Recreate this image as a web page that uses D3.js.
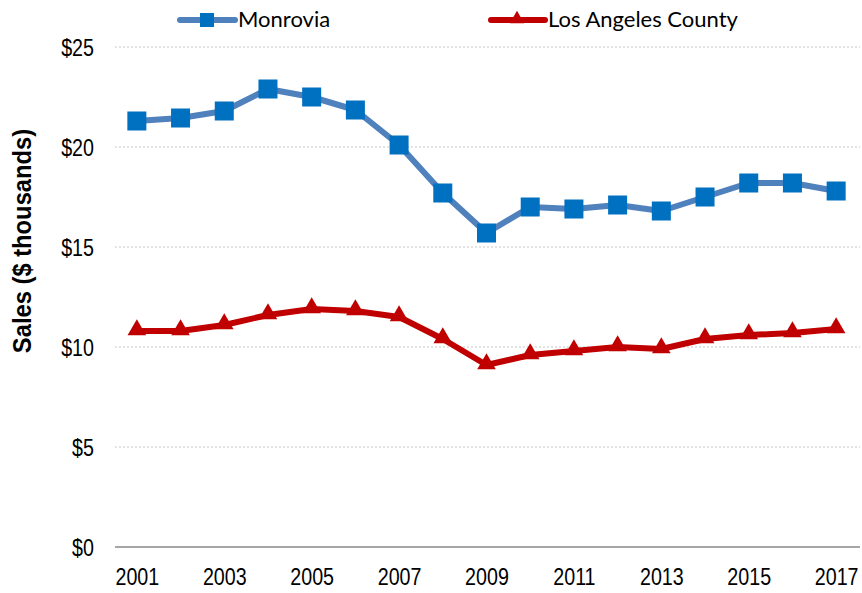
<!DOCTYPE html>
<html>
<head>
<meta charset="utf-8">
<script src="https://cdn.jsdelivr.net/npm/d3@7"></script>
<style>
  html, body { margin: 0; padding: 0; background: #fff; }
  svg { display: block; }
  .tick-label { font-family: "Liberation Sans", Arial, sans-serif; font-size: 24px; fill: #000; }
  .legend-label { font-family: Lato, Calibri, "Open Sans", sans-serif; font-size: 22px; fill: #000; }
  .y-title { font-family: "Liberation Sans", Arial, sans-serif; font-weight: bold; font-size: 25px; fill: #000; }
</style>
</head>
<body>
<svg id="chart" width="862" height="593"></svg>
<script>
// Annual sales per capita ($ thousands)
const years = [2001, 2002, 2003, 2004, 2005, 2006, 2007, 2008, 2009, 2010, 2011, 2012, 2013, 2014, 2015, 2016, 2017];
const monrovia = [21.3, 21.45, 21.8, 22.9, 22.5, 21.85, 20.1, 17.7, 15.7, 17.0, 16.9, 17.1, 16.8, 17.5, 18.2, 18.2, 17.8];
const laCounty = [10.8, 10.8, 11.1, 11.6, 11.9, 11.8, 11.5, 10.4, 9.1, 9.6, 9.8, 10.0, 9.9, 10.4, 10.6, 10.7, 10.9];
const yTicks = [0, 5, 10, 15, 20, 25];
const xTickYears = [2001, 2003, 2005, 2007, 2009, 2011, 2013, 2015, 2017];
const seriesNames = ["Monrovia", "Los Angeles County"];

const svg = d3.select("#chart");

const x = d3.scalePoint().domain(years).range([115, 858]).padding(0.5);
const y = d3.scaleLinear().domain([0, 25]).range([547, 47]);

// Condensed look for the axis numbers
const narrow = "scale(0.82,1)";

// Dotted horizontal gridlines
svg.append("g")
  .selectAll("line")
  .data(yTicks.filter(d => d > 0))
  .join("line")
  .attr("x1", 115).attr("x2", 860)
  .attr("y1", d => y(d)).attr("y2", d => y(d))
  .attr("stroke", "#c8c8c8")
  .attr("stroke-width", 1.2)
  .attr("stroke-dasharray", "2,2");

// Baseline
svg.append("line")
  .attr("x1", 115).attr("x2", 860)
  .attr("y1", y(0)).attr("y2", y(0))
  .attr("stroke", "#a6a6a6")
  .attr("stroke-width", 2);

// Y axis labels
const yAxis = svg.append("g")
  .attr("transform", "translate(94,0)")
  .call(d3.axisLeft(y).tickValues(yTicks).tickSize(0).tickPadding(0).tickFormat(d => "$" + d));
yAxis.select(".domain").remove();
yAxis.selectAll("text")
  .attr("class", "tick-label")
  .attr("dy", "0.36em")
  .attr("transform", narrow)
  .attr("font-size", null).attr("font-family", null);

// X axis labels
const xAxis = svg.append("g")
  .attr("transform", "translate(0,561)")
  .call(d3.axisBottom(x).tickValues(xTickYears).tickSize(0).tickPadding(0));
xAxis.select(".domain").remove();
xAxis.selectAll("text")
  .attr("class", "tick-label")
  .attr("dy", "0.98em")
  .attr("transform", narrow)
  .attr("font-size", null).attr("font-family", null);

// Y axis title
svg.append("text")
  .attr("class", "y-title")
  .attr("transform", "translate(31,241) rotate(-90) scale(0.95,1)")
  .attr("text-anchor", "middle")
  .text("Sales ($ thousands)");

const line = d3.line().x((d, i) => x(years[i])).y(d => y(d));

// Monrovia series
svg.append("path")
  .datum(monrovia)
  .attr("d", line)
  .attr("fill", "none")
  .attr("stroke", "#4f81bd")
  .attr("stroke-width", 6)
  .attr("stroke-linejoin", "round");
svg.append("g")
  .selectAll("rect")
  .data(monrovia)
  .join("rect")
  .attr("x", (d, i) => x(years[i]) - 9.5)
  .attr("y", d => y(d) - 9.5)
  .attr("width", 19).attr("height", 19)
  .attr("fill", "#0070c0");

// Los Angeles County series
svg.append("path")
  .datum(laCounty)
  .attr("d", line)
  .attr("fill", "none")
  .attr("stroke", "#c00000")
  .attr("stroke-width", 6)
  .attr("stroke-linejoin", "round");
const tri = d3.symbol().type(d3.symbolTriangle).size(150);
svg.append("g")
  .selectAll("path")
  .data(laCounty)
  .join("path")
  .attr("d", tri)
  .attr("transform", (d, i) => `translate(${x(years[i])},${y(d) - 1})`)
  .attr("fill", "#c00000");

// Legend
const legend = svg.append("g");
legend.append("line")
  .attr("x1", 180).attr("x2", 235).attr("y1", 20).attr("y2", 20)
  .attr("stroke", "#4f81bd").attr("stroke-width", 6).attr("stroke-linecap", "round");
legend.append("rect")
  .attr("x", 200).attr("y", 13).attr("width", 14).attr("height", 14)
  .attr("fill", "#0070c0");
legend.append("text")
  .attr("class", "legend-label")
  .attr("x", 238).attr("y", 27)
  .text(seriesNames[0]);

legend.append("line")
  .attr("x1", 491).attr("x2", 545).attr("y1", 20).attr("y2", 20)
  .attr("stroke", "#c00000").attr("stroke-width", 6).attr("stroke-linecap", "round");
legend.append("path")
  .attr("d", d3.symbol().type(d3.symbolTriangle).size(90))
  .attr("transform", "translate(517,19)")
  .attr("fill", "#c00000");
legend.append("text")
  .attr("class", "legend-label")
  .attr("x", 548).attr("y", 27)
  .text(seriesNames[1]);
</script>
</body>
</html>
